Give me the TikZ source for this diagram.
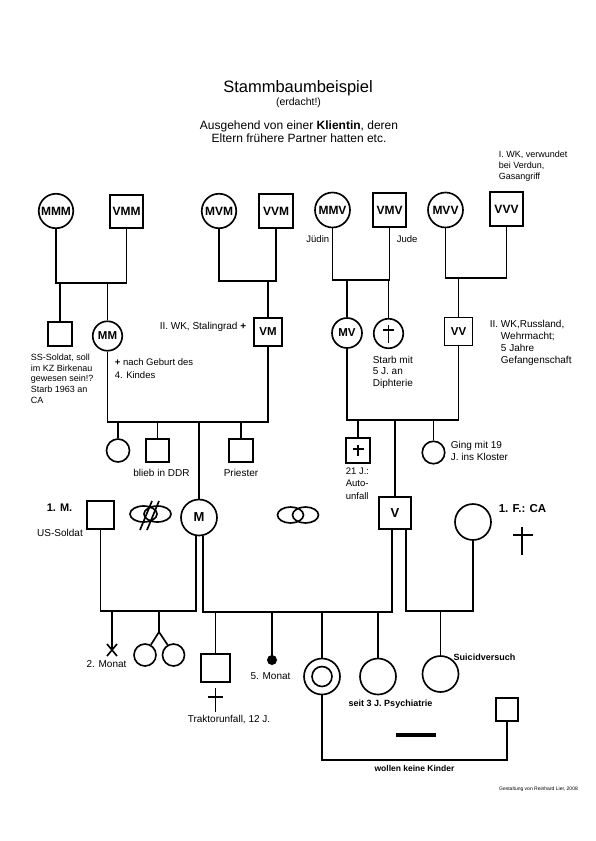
\documentclass[tikz,border=0pt]{standalone}
\usepackage{fontspec}
\setmainfont{Liberation Sans}
\newcommand\fz[2]{\fontsize{#1}{#2}\selectfont}
\begin{document}
\begin{tikzpicture}[x=1pt,y=-1pt,line width=1.65pt,
  fem/.style={circle,draw,inner sep=0pt,minimum size=#1,font=\bfseries\fz{12}{14}},
  mal/.style={rectangle,draw,inner sep=0pt,minimum size=#1,font=\bfseries\fz{12}{14}},
  dotn/.style={circle,fill,inner sep=0pt,minimum size=10pt},
  lbl/.style={inner sep=0pt,font=\fz{10}{12}},
  blk/.style={inner sep=0pt,align=left,anchor=north west},
  bld/.style={inner sep=0pt,font=\bfseries\fz{9}{11}},
  crs/.style={line width=1.9pt}]
\fill[white] (0,0) rectangle (595,841);
\useasboundingbox (0,0) rectangle (595,841);
% titles
\node[inner sep=0pt,font=\fz{16.5}{20}] (title) at (298,88) {Stammbaumbeispiel};
\node[inner sep=0pt,font=\fz{10.5}{12}] (erd) at (298.5,102.5) {(erdacht!)};
\node[inner sep=0pt,align=center,font=\fz{12}{13.5}] (sub) at (299,131.5) {Ausgehend von einer \textbf{Klientin}, deren\\Eltern frühere Partner hatten etc.};
% top row
\node[fem=34.5] (MMM) at (56,211) {MMM};
\node[mal=33.5] (VMM) at (126.5,211.5) {VMM};
\node[fem=34.5] (MVM) at (219,211) {MVM};
\node[mal=34] (VVM) at (276,211) {VVM};
\node[fem=35] (MMV) at (332.5,210) {MMV};
\node[mal=33.5] (VMV) at (389.5,210) {VMV};
\node[fem=35] (MVV) at (445.5,210) {MVV};
\node[mal=33.5] (VVV) at (506.5,209) {VVV};
\node[lbl,anchor=east,font=\fz{9.5}{11}] (jud1) at (330,239) {Jüdin};
\node[lbl,anchor=west,font=\fz{9.5}{11}] (jud2) at (396,239) {Jude};
\node[blk,font=\fz{9}{11}] (vvvt) at (498,150.5) {I. WK, verwundet\\bei Verdun,\\Gasangriff};
\coordinate (u1) at (0,283);
\coordinate (u2) at (0,281);
\coordinate (u3) at (0,280);
\coordinate (u4) at (0,278);
\draw (MMM.south) -- (MMM.south |- u1) -| (VMM.south);
\draw (MVM.south) -- (MVM.south |- u2) -| (VVM.south);
\draw (MMV.south) -- (MMV.south |- u3) -| (VMV.south);
\draw (MVV.south) -- (MVV.south |- u4) -| (VVV.south);
% second row
\node[mal=23.5] (SS) at (60,334) {};
\node[fem=29.5,font=\bfseries\fz{11.5}{13}] (MM) at (107.5,336) {MM};
\node[mal=28.5,font=\bfseries\fz{11.5}{13}] (VM) at (268,332) {VM};
\node[fem=30,font=\bfseries\fz{11.5}{13}] (MV) at (347,333) {MV};
\node[fem=29.5] (DC) at (388.5,333.5) {};
\node[mal=28,font=\bfseries\fz{11.5}{13}] (VV) at (458.5,331.5) {VV};
\draw (SS.north |- u1) -- (SS.north);
\draw (MM.north |- u1) -- (MM.north);
\draw (VM.north |- u2) -- (VM.north);
\draw (MV.north |- u3) -- (MV.north);
\draw (DC.north |- u3) -- (DC.north);
\draw (VV.north |- u4) -- (VV.north);
\draw[crs] ([yshift=8.5pt]DC.center) -- ([yshift=-9.5pt]DC.center);
\draw[crs] ([shift={(-5.5pt,3.5pt)}]DC.center) -- ([shift={(5.5pt,3.5pt)}]DC.center);
\node[blk,font=\fz{9}{10.8}] (sst) at (30,353) {SS-Soldat, soll\\im KZ Birkenau\\gewesen sein!?\\Starb 1963 an\\CA};
\node[lbl,anchor=east] (vmt) at (247,327) {II. WK, Stalingrad \textbf{+}};
\node[blk,font=\fz{9.5}{13}] (mmt) at (114,358) {\textbf{+} nach Geburt des\\4. Kindes};
\node[blk,font=\fz{10}{11.7}] (dct) at (372,355) {Starb mit\\5 J. an\\Diphterie};
\node[blk,font=\fz{10}{12}] (vvt) at (489,319) {II. WK,Russland,\\\hphantom{II.\ }Wehrmacht;\\\hphantom{II.\ }5 Jahre\\\hphantom{II.\ }Gefangenschaft};
% unions of second row
\coordinate (u5) at (0,422);
\coordinate (u6) at (0,420);
\draw (MM.south) -- (MM.south |- u5) -| (VM.south);
\draw (MV.south) -- (MV.south |- u6) -| (VV.south);
% third row
\node[fem=23] (D1) at (118,450.5) {};
\node[mal=23.5] (S1) at (157.5,450.5) {};
\node[mal=23.5] (PR) at (241,450.5) {};
\node[mal=24.5] (AU) at (358,450.5) {};
\node[fem=22.5] (KK) at (433.5,452.5) {};
\draw (D1.north |- u5) -- (D1.north);
\draw (S1.north |- u5) -- (S1.north);
\draw (PR.north |- u5) -- (PR.north);
\draw (AU.north |- u6) -- (AU.north);
\draw (KK.north |- u6) -- (KK.north);
\draw[crs] ([yshift=5.5pt]AU.center) -- ([yshift=-5.5pt]AU.center);
\draw[crs] ([shift={(-5.5pt,1.5pt)}]AU.center) -- ([shift={(5.5pt,1.5pt)}]AU.center);
\node[lbl] (s1t) at (161.5,473) {blieb in DDR};
\node[lbl] (prt) at (241,473) {Priester};
\node[blk,font=\fz{9.5}{12.5}] (aut) at (345,467) {21 J.:\\Auto-\\unfall};
\node[blk,font=\fz{10}{12}] (kkt) at (450,440) {Ging mit 19\\J. ins Kloster};
% parents row
\node[mal=27.5] (EM) at (100.5,515) {};
\node[fem=36,font=\bfseries\fz{13}{15}] (M) at (199,517.5) {M};
\node[mal=32.5,font=\bfseries\fz{13}{15}] (V) at (395,513) {V};
\node[fem=36] (EF) at (473,522) {};
\draw (M.north |- u5) -- (M.north);
\draw (V.north |- u6) -- (V.north);
\node[inner sep=0pt,font=\bfseries\fz{11}{13}] (emt) at (59.5,508) {1. M.};
\node[lbl] (emu) at (60,533) {US-Soldat};
\node[inner sep=0pt,font=\bfseries\fz{11.5}{13}] (eft) at (522.5,509) {1. F.: CA};
\draw (522,527) -- (522,555);
\draw (513,535) -- (533,535);
% relation symbols
\draw (143.5,514) ellipse[x radius=13.5,y radius=8];
\draw (157.5,514) ellipse[x radius=13.5,y radius=8];
\draw (140,530) -- (152,501);
\draw (147,530) -- (159,501);
\draw (290.5,515) ellipse[x radius=13,y radius=8];
\draw (305.5,515) ellipse[x radius=13,y radius=8];
% parents' lines
\coordinate (u7) at (0,611);
\coordinate (u8) at (0,612);
\coordinate (ml) at ([xshift=-3pt]M.south);
\coordinate (mr) at ([xshift=4pt]M.south);
\coordinate (vl) at ([xshift=-3pt]V.south);
\coordinate (vr) at ([xshift=11pt]V.south);
\draw (ml) -- (ml |- u7) -| (EM.south);
\draw (mr) -- (mr |- u8) -| (vl);
\draw (vr) -- (vr |- u7) -| (EF.south);
% children of 1. M. and M
\coordinate (X) at (112,650);
\draw (X |- u7) -- (X);
\draw ([shift={(-5pt,6pt)}]X) -- ([shift={(5pt,-6pt)}]X);
\draw ([shift={(5pt,6pt)}]X) -- ([shift={(-5pt,-6pt)}]X);
\node[lbl] (xt) at (106.5,664) {2. Monat};
\node[fem=22] (T1) at (145,655) {};
\node[fem=22] (T2) at (173.5,655) {};
\coordinate (tw) at (159,632);
\draw (tw |- u7) -- (tw);
\draw (T1.60) -- (tw) -- (T2.120);
% children of M and V
\node[mal=28.5] (TR) at (215.5,668) {};
\draw (TR.north |- u8) -- (TR.north);
\draw ([yshift=-5pt]TR.south) -- ([yshift=-29pt]TR.south);
\draw ([shift={(-7.5pt,-14pt)}]TR.south) -- ([shift={(7.5pt,-14pt)}]TR.south);
\node[lbl] (trt) at (229,720) {Traktorunfall, 12 J.};
\node[dotn] (DOT) at (272,660) {};
\draw (DOT.north |- u8) -- (DOT.center);
\node[lbl] (dott) at (270.5,676) {5. Monat};
\node[fem=36] (KL) at (322,676.5) {};
\node[fem=20] (KLi) at (KL) {};
\draw (KL.north |- u8) -- (KL.north);
\node[fem=36] (SI) at (378,676.5) {};
\draw (SI.north |- u8) -- (SI.north);
\node[bld] (sit) at (390.5,704) {seit 3 J. Psychiatrie};
% child of V and 1. F.
\node[fem=36] (SU) at (440.5,674) {};
\draw (SU.north |- u7) -- (SU.north);
\node[bld] (sut) at (484.5,657) {Suicidversuch};
% Klientin and partner
\node[mal=22.5] (PA) at (507,709.5) {};
\coordinate (u9) at (0,760);
\draw (KL.south) -- (KL.south |- u9) -| (PA.south);
\draw[line width=4.5pt] (396,735) -- (436,735);
\node[bld,font=\bfseries\fz{8.5}{10}] (wkt) at (414.5,768) {wollen keine Kinder};
\node[inner sep=0pt,font=\fz{5}{6}] (cred) at (538.5,789) {Gestaltung von Reinhard Lier, 2008};
\end{tikzpicture}
\end{document}
